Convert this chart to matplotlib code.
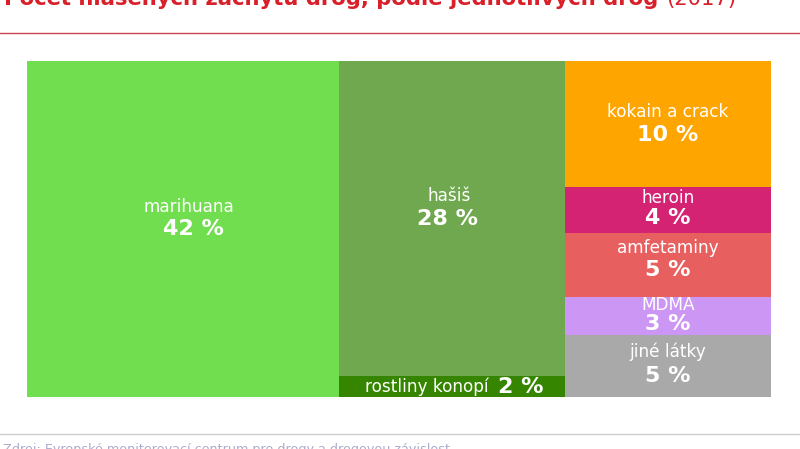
import matplotlib
matplotlib.use("Agg")
import matplotlib.pyplot as plt

# Treemap columns, left to right; each value is the share
col_left = ["marihuana"]
col_left_values = [42.0]
col_left_labels = ["42 %"]
col_left_colors = ["#70DE4E"]

col_mid = ["hašiš", "rostliny konopí"]
col_mid_values = [28.4, 1.9]
col_mid_labels = ["28 %", "2 %"]
col_mid_colors = ["#70A84F", "#368500"]

col_right = ["kokain a crack", "heroin", "amfetaminy", "MDMA", "jiné látky"]
col_right_values = [10.4, 3.8, 5.25, 3.15, 5.1]
col_right_labels = ["10 %", "4 %", "5 %", "3 %", "5 %"]
col_right_colors = ["#FFA500", "#D32372", "#E85F5F", "#CC96F5", "#A9A9A9"]

title_bold = "Počet hlášených záchytů drog, podle jednotlivých drog"
title_year = "(2017)"
source = "Zdroj: Evropské monitorovací centrum pro drogy a drogovou závislost"

# Label placement in pixels, relative to each rectangle's centre:
# (name dx, name dy, value dx, value dy)
label_offsets = {
    "marihuana": (6, -22, 10, 0),
    "hašiš": (-3, -22, -5, 1),
    "rostliny konopí": (-25, 0, 69, 1),
    "kokain a crack": (0, -12, 0, 11),
    "heroin": (0, -12, 0, 8),
    "amfetaminy": (0, -17, 0, 5),
    "MDMA": (0, -11, 0, 8),
    "jiné látky": (0, -14, 0, 10),
}

W, H = 800, 449
fig = plt.figure(figsize=(W / 100, H / 100), dpi=100, facecolor="white")
plt.rcParams["font.family"] = "DejaVu Sans"

ax = fig.add_axes([27 / W, 1 - 397 / H, 744 / W, 336 / H])
ax.set_axis_off()
ax.set_xlim(0, 100)
ax.set_ylim(1, 0)

columns = [
    (col_left, col_left_values, col_left_labels, col_left_colors),
    (col_mid, col_mid_values, col_mid_labels, col_mid_colors),
    (col_right, col_right_values, col_right_labels, col_right_colors),
]

x = 0.0
total = sum(sum(c[1]) for c in columns)
for names, values, labels, colors in columns:
    width = sum(values) / total * 100
    y = 0.0
    for name, v, lab, c in zip(names, values, labels, colors):
        h = v / sum(values)
        ax.bar(x, h, width=width, bottom=y, align="edge", color=c, linewidth=0)
        cx = x + width / 2
        cy = y + h / 2
        ndx, ndy, vdx, vdy = label_offsets[name]
        ax.annotate(name, (cx, cy), xytext=(ndx * 0.72, -ndy * 0.72),
                    textcoords="offset points", ha="center", va="center",
                    color="white", fontsize=12.2)
        ax.annotate(lab, (cx, cy), xytext=(vdx * 0.72, -vdy * 0.72),
                    textcoords="offset points", ha="center", va="center",
                    color="white", fontsize=16, fontweight="bold")
        y += h
    x += width

# Page furniture, in figure pixels
overlay = fig.add_axes([0, 0, 1, 1], facecolor="none")
overlay.set_axis_off()
overlay.set_xlim(0, W)
overlay.set_ylim(H, 0)
overlay.plot([0, W], [32.5, 32.5], color="#C8434F", lw=1)
overlay.plot([0, W], [434, 434], color="#CFCFCF", lw=1)
overlay.text(4, 5, title_bold, ha="left", va="baseline", color="#D9202A",
             fontsize=15.2, fontweight="bold")
overlay.text(666, 5, title_year, ha="left", va="baseline", color="#D9202A", fontsize=15.2)
overlay.text(3, 453, source, ha="left", va="baseline", color="#A9ADCB", fontsize=9.2)

fig.savefig("out.png", dpi=100)
